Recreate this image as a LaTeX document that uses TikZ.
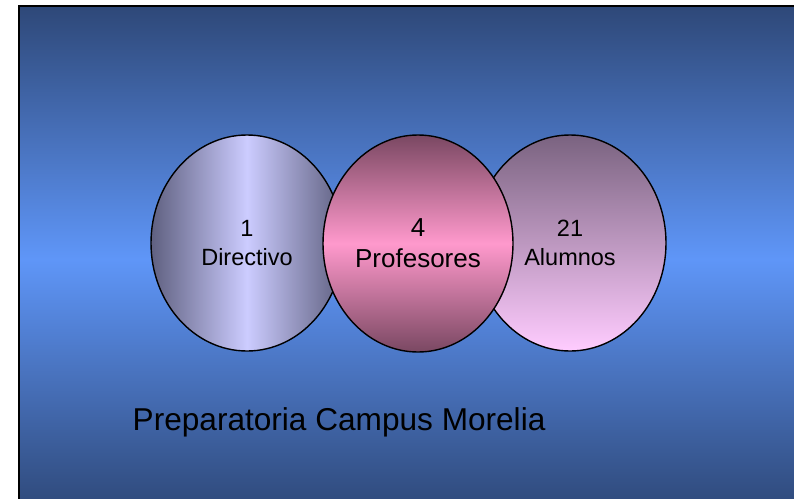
\documentclass[tikz,border=0pt]{standalone}
\usepackage{fontspec}
\setmainfont{Liberation Sans}
\usetikzlibrary{shapes.geometric}
\definecolor{fondo}{HTML}{2E4878}
\definecolor{fondoclaro}{HTML}{5F96F8}
\definecolor{lila}{HTML}{CCCCFF}
\definecolor{lilaosc}{HTML}{5F6080}
\definecolor{rosa}{HTML}{FF99CC}
\definecolor{rosaosc}{HTML}{7A4862}
\definecolor{malva}{HTML}{7A6380}
\definecolor{rosaclaro}{HTML}{FFCCFF}

\begin{document}
\begin{tikzpicture}[x=1pt,y=-1pt]
			\tikzstyle{every node}+=[inner sep=0pt]
			\tikzstyle{circulo}=[ellipse,draw=black,line width=1.4pt,minimum width=192pt,minimum height=216pt,align=center]
			\useasboundingbox (0,0) rectangle (794,498);
			\clip (0,0) rectangle (794,498);
			\shade [top color=fondo,bottom color=fondo,middle color=fondoclaro] (19,6) rectangle (812,512);
			\draw [black,line width=2pt] (812,6) -- (19,6) -- (19,512);
			\node [circulo,left color=lilaosc,right color=lilaosc,middle color=lila,font=\fontsize{23.5}{29}\selectfont] (directivo) at (247,243) {1\\Directivo};
			\node [circulo,top color=malva,bottom color=rosaclaro,font=\fontsize{23.5}{29}\selectfont] (alumnos) at (570,243) {21\\Alumnos};
			\node [circulo,top color=rosaosc,bottom color=rosaosc,middle color=rosa,minimum width=190pt,minimum height=217pt,font=\fontsize{26}{31}\selectfont] (profesores) at (418,243.5) {4\\Profesores};
			\node [anchor=base west,font=\fontsize{31.6}{38}\selectfont] (campus) at (132.5,430) {Preparatoria Campus Morelia};
\end{tikzpicture}
\end{document}
